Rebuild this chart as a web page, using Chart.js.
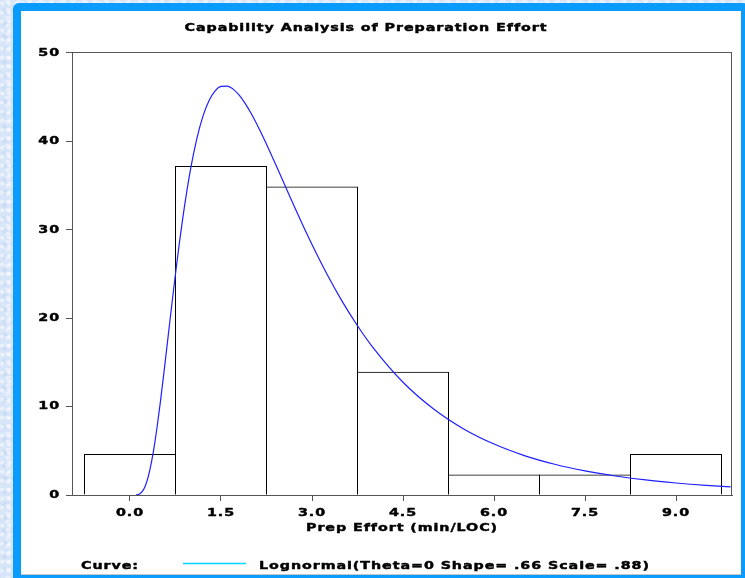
<!DOCTYPE html>
<html>
<head>
<meta charset="utf-8">
<title>Capability Analysis of Preparation Effort</title>
<script src="https://cdn.jsdelivr.net/npm/chart.js@4.4.1/dist/chart.umd.min.js"></script>
<style>
  html, body { margin: 0; padding: 0; }
  body {
    width: 745px; height: 578px; overflow: hidden; position: relative;
    background-color: #d6e5f7;
    background-image:
      radial-gradient(circle at 30% 40%, rgba(255,255,255,0.5) 0 1.5px, transparent 2.5px),
      radial-gradient(circle at 70% 20%, rgba(255,255,255,0.4) 0 2px, transparent 3px),
      radial-gradient(circle at 50% 80%, rgba(195,215,242,0.6) 0 2px, transparent 3px);
    background-size: 7px 9px, 11px 8px, 9px 13px;
  }
  #frame {
    position: absolute; left: 13px; top: 3px;
    width: 720px; height: 564px;
    border: 8px solid #0a9bff; border-radius: 6px;
    background: #ffffff;
    box-shadow: inset 0 -1px 0 #c8c8c8;
  }
  #chart { position: absolute; left: 0; top: 0; }
</style>
</head>
<body>
<div id="frame"></div>
<canvas id="chart" width="745" height="578"></canvas>
<script>
// ---- data ----
const binMidpoints = [0.0, 1.5, 3.0, 4.5, 6.0, 7.5, 9.0];
const binPercents  = [4.65, 37.21, 34.88, 13.95, 2.33, 2.33, 4.65];

const curveX = [0.10, 0.15, 0.20, 0.25, 0.30, 0.35, 0.40, 0.45, 0.50, 0.55, 0.60, 0.65, 0.70, 0.75, 0.80,
                0.90, 1.00, 1.10, 1.20, 1.30, 1.40, 1.50, 1.60, 1.70, 1.80, 1.90, 2.00, 2.20, 2.40, 2.60,
                2.80, 3.00, 3.25, 3.50, 3.75, 4.00, 4.50, 5.00, 5.50, 6.00, 6.50, 7.00, 7.50, 8.00, 8.50,
                9.00, 9.50, 9.90];
const curveY = [0.01, 0.09, 0.37, 0.99, 2.05, 3.57, 5.52, 7.86, 10.48, 13.31, 16.25, 19.22, 22.17, 25.02, 27.76,
                32.72, 36.91, 40.24, 42.79, 44.56, 45.68, 46.21, 46.25, 45.90, 45.21, 44.26, 43.11, 40.41, 37.40, 34.30,
                31.24, 28.32, 24.93, 21.87, 19.14, 16.72, 12.75, 9.75, 7.47, 5.76, 4.46, 3.48, 2.73, 2.15, 1.70,
                1.36, 1.09, 0.92];

const xTickValues = [0, 1.5, 3.0, 4.5, 6.0, 7.5, 9.0];
const yTickValues = [0, 10, 20, 30, 40, 50];

const chartTitle  = 'Capability Analysis of Preparation Effort';
const xAxisTitle  = 'Prep Effort (min/LOC)';
const legendLead  = 'Curve:';
const curveLabel  = 'Lognormal(Theta=0 Shape= .66 Scale= .88)';

// ---- SAS-like extended heavy lettering ----
const SX = 1.3, LS = '0.7px';
const canvas = document.getElementById('chart');
const ctx0 = canvas.getContext('2d');
(function stretchText(ctx) {
  const oFill = ctx.fillText, oStroke = ctx.strokeText, oMeasure = ctx.measureText;
  ctx.fillText = function (t, x, y) {
    this.save();
    this.letterSpacing = LS;
    this.translate(x, y);
    this.scale(SX, 1);
    oFill.call(this, t, 0, 0);
    this.strokeStyle = this.fillStyle;
    this.lineWidth = 0.45;
    this.lineJoin = 'round';
    oStroke.call(this, t, 0, 0);
    this.restore();
  };
  ctx.measureText = function (t) {
    this.save();
    this.letterSpacing = LS;
    const m = oMeasure.call(this, t);
    this.restore();
    return {
      width: m.width * SX,
      actualBoundingBoxAscent: m.actualBoundingBoxAscent,
      actualBoundingBoxDescent: m.actualBoundingBoxDescent,
      actualBoundingBoxLeft: m.actualBoundingBoxLeft * SX,
      actualBoundingBoxRight: m.actualBoundingBoxRight * SX
    };
  };
})(ctx0);

const FONT_FAMILY = "'DejaVu Sans', 'Liberation Sans', sans-serif";
Chart.defaults.font.family = FONT_FAMILY;
Chart.defaults.font.size = 11;
Chart.defaults.font.weight = 'bold';
Chart.defaults.color = '#000';

const AXIS_COLOR = '#555';

const framePlugin = {
  id: 'plotFrame',
  beforeDatasetsDraw(chart) {
    const { ctx, chartArea: a } = chart;
    ctx.save();
    ctx.strokeStyle = AXIS_COLOR;
    ctx.lineWidth = 1;
    ctx.strokeRect(Math.round(a.left) + 0.5, Math.round(a.top) + 0.5,
                   Math.round(a.right - a.left) - 1, Math.round(a.bottom - a.top));
    ctx.restore();
  }
};

const footerPlugin = {
  id: 'footerLegend',
  afterDraw(chart) {
    const ctx = chart.ctx;
    ctx.save();
    ctx.font = "bold 11px " + FONT_FAMILY;
    ctx.fillStyle = '#000';
    ctx.textAlign = 'left';
    ctx.textBaseline = 'middle';
    ctx.fillText(legendLead, 81, 566);
    ctx.fillText(curveLabel, 259, 566);
    ctx.restore();
    ctx.save();
    ctx.strokeStyle = '#00d4ff';
    ctx.lineWidth = 1.4;
    ctx.beginPath();
    ctx.moveTo(183, 563.5);
    ctx.lineTo(246, 563.5);
    ctx.stroke();
    ctx.restore();
  }
};

new Chart(ctx0, {
  type: 'bar',
  data: {
    datasets: [
      {
        type: 'line',
        label: curveLabel,
        data: curveX.map((x, i) => ({ x: x, y: curveY[i] })),
        borderColor: '#1f1fff',
        borderWidth: 1.2,
        pointRadius: 0,
        fill: false,
        cubicInterpolationMode: 'monotone',
        order: 1
      },
      {
        type: 'bar',
        label: 'Percent',
        data: binMidpoints.map((x, i) => ({ x: x, y: binPercents[i] })),
        backgroundColor: 'rgba(255,255,255,0)',
        borderColor: '#000',
        borderWidth: 1,
        categoryPercentage: 1,
        barPercentage: 92 / 91,
        order: 2
      }
    ]
  },
  options: {
    responsive: false,
    animation: false,
    devicePixelRatio: 1,
    layout: { padding: { left: 0, right: 13, top: 0, bottom: 43 } },
    plugins: {
      legend: { display: false },
      tooltip: { enabled: false },
      title: {
        display: true,
        text: chartTitle,
        color: '#000',
        font: { family: FONT_FAMILY, size: 11, weight: 'bold' },
        padding: { top: 21.4, bottom: 17.4 }
      }
    },
    scales: {
      x: {
        type: 'linear',
        offset: false,
        min: -0.956,
        max: 9.923,
        afterBuildTicks: (s) => { s.ticks = xTickValues.map(v => ({ value: v })); },
        afterFit: (s) => { s.height = 40; },
        ticks: {
          autoSkip: false, maxRotation: 0, padding: 6, color: '#000',
          callback: (v) => Number(v).toFixed(1)
        },
        grid: { display: true, offset: false, drawOnChartArea: false, drawTicks: true, tickLength: 6, color: AXIS_COLOR },
        border: { display: true, color: AXIS_COLOR, width: 1 },
        title: { display: true, text: xAxisTitle, color: '#000', padding: { top: 0, bottom: 0 } }
      },
      y: {
        type: 'linear',
        min: 0,
        max: 50.1,
        afterBuildTicks: (s) => { s.ticks = yTickValues.map(v => ({ value: v })); },
        afterFit: (s) => { s.width = 72; },
        ticks: { padding: 6, color: '#000' },
        grid: { display: true, drawOnChartArea: false, drawTicks: true, tickLength: 6, color: AXIS_COLOR },
        border: { display: true, color: AXIS_COLOR, width: 1 }
      }
    }
  },
  plugins: [framePlugin, footerPlugin]
});
</script>
</body>
</html>
